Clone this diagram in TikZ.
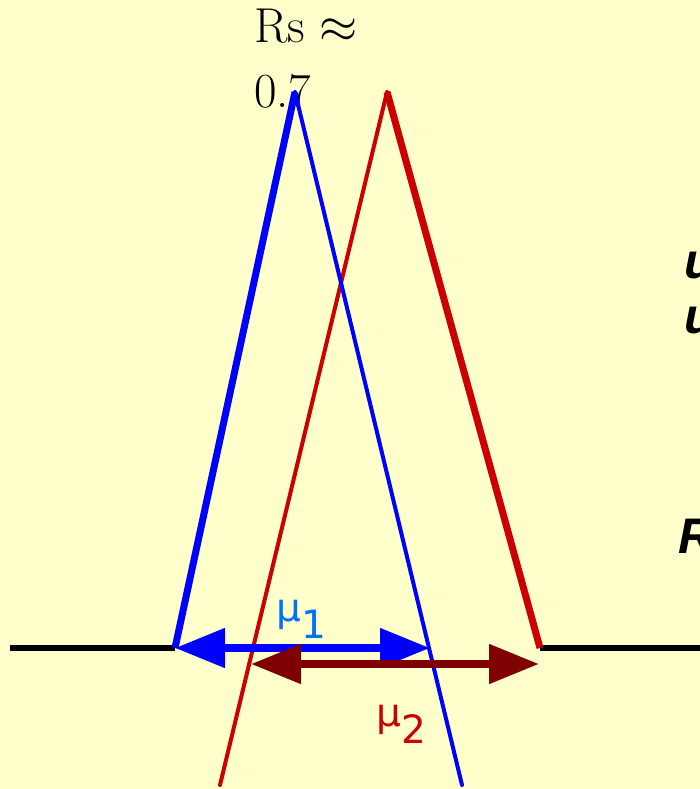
\RequirePackage{fix-cm}
\documentclass[tikz,border=0pt]{standalone}
\usepackage{fontspec}
\newfontfamily\dejavu{DejaVu Sans}
\newfontfamily\libsans{Liberation Sans}
\usetikzlibrary{arrows.meta}
\definecolor{bg}{RGB}{255,255,204}
\definecolor{myblue}{RGB}{0,0,255}
\definecolor{myred}{RGB}{204,0,0}
\definecolor{darkred}{RGB}{127,0,0}
\definecolor{lblblue}{RGB}{0,112,255}
\tikzset{
  thickleg/.style={line width=7pt},
  thinleg/.style={line width=4pt},
  baseln/.style={line width=6pt, black},
  muarrow/.style={line width=8pt, {Triangle[length=50pt,width=38pt]}-{Triangle[length=50pt,width=38pt]}},
  mulabel/.style={inner sep=0pt, anchor=base west, font=\dejavu\fontsize{39}{44}\selectfont},
  sidetext/.style={inner sep=0pt, anchor=base west, font=\libsans\bfseries\itshape\fontsize{50}{60}\selectfont}
}
\begin{document}
\begin{tikzpicture}[x=1pt,y=-1pt]
\useasboundingbox (0,0) rectangle (700,789);
\fill[bg] (0,0) rectangle (700,789);
\clip (0,0) rectangle (700,789);
% coordinates
\coordinate (L) at (10,648);
\coordinate (R) at (705,648);
\coordinate (b1) at (175,648);
\coordinate (btop) at (295,92);
\coordinate (b2) at (462,785);
\coordinate (r1) at (220,785);
\coordinate (rtop) at (387,92);
\coordinate (r2) at (540,648);
\coordinate (m1a) at (175,648);
\coordinate (m1b) at (430,648);
\coordinate (m2a) at (251,664);
\coordinate (m2b) at (539,664);
% baseline
\draw[baseln] (L) -- (b1);
\draw[baseln] (r2) -- (R);
% title
\node[inner sep=0pt, anchor=base west, align=left, font=\fontsize{49}{65}\selectfont] (rs) at (254,108) {Rs $\approx$\\0.7};
% side text (cut off at the right edge, as in the reference)
\node[sidetext] (s1) at (684,278) {и};
\node[sidetext] (s2) at (684,333) {и};
\node[sidetext] (s3) at (678,553) {R};
% red triangle
\draw[myred, thinleg, line cap=round] (r1) -- (rtop);
\draw[myred, thickleg] (rtop) -- (r2);
% blue triangle
\draw[myblue, thickleg] (b1) -- (btop);
\draw[myblue, thinleg, line cap=round] (btop) -- (b2);
% arrows
\draw[myblue, muarrow] (m1a) -- (m1b);
\draw[darkred, muarrow] (m2a) -- (m2b);
% labels
\node[mulabel, text=lblblue] (mu1) at (276,621) {μ\raisebox{-17pt}{1}};
\node[mulabel, text=myred] (mu2) at (376,726) {μ\raisebox{-17pt}{2}};
\end{tikzpicture}
\end{document}
